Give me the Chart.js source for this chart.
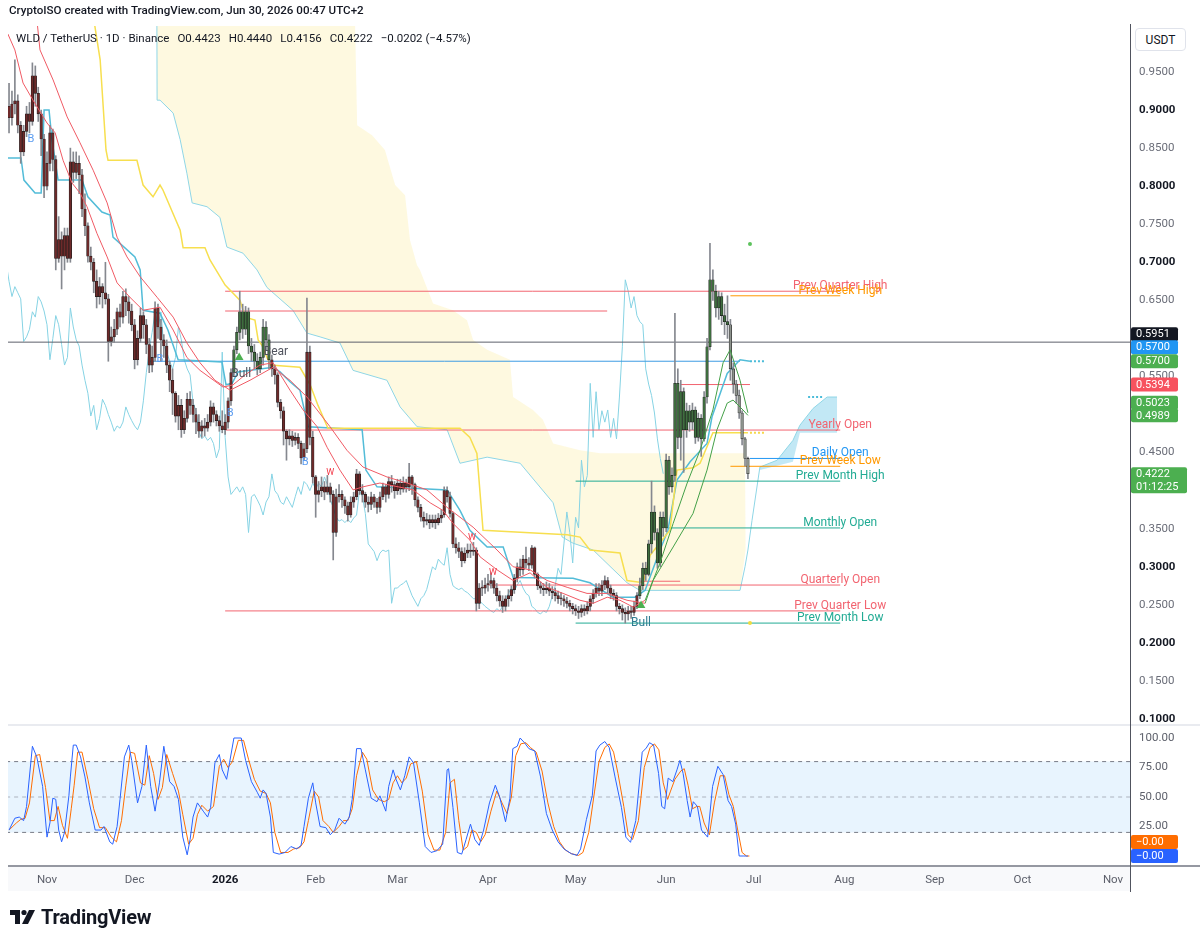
<!DOCTYPE html>
<html><head><meta charset="utf-8">
<script src="https://cdn.jsdelivr.net/npm/chart.js@4.4.1/dist/chart.umd.min.js"></script>
<style>
html,body{margin:0;padding:0;background:#fff;width:1200px;height:946px;overflow:hidden;font-family:Roboto,"Noto Sans",sans-serif;color:#131722}
canvas{position:absolute;left:0}
#main{top:0}
#osc{top:724px}
.abs{position:absolute;white-space:nowrap}
#hdr{left:9px;top:3px;font-size:11.6px;font-weight:500}
#ttl{left:16px;top:31px;font-size:11.5px}
#ttl span{margin-left:8px}
#usdt{left:1135px;top:28px;width:51px;height:23px;border:1px solid #e0e3eb;border-radius:4px;background:#fff;font-size:12px;text-align:center;line-height:23px;box-sizing:border-box}
#vline{left:1130px;top:24px;width:1px;height:868px;background:#50535e}
#sep{left:8px;top:724px;width:1192px;height:2px;background:#e9ebf0}
#xbar{left:8px;top:866px;width:1122px;height:25px;background:#f8f9fb}
#bline{left:8px;top:865px;width:1192px;height:2px;background:#9598a1}
#logo{left:10px;top:905px;display:flex;align-items:center}
#logo span{font-size:20px;font-weight:700;margin-left:5px;letter-spacing:-0.2px}
</style></head>
<body>
<div id="xbar" class="abs"></div>
<canvas id="main" width="1200" height="724"></canvas>
<canvas id="osc" width="1200" height="222"></canvas>
<div id="sep" class="abs"></div>
<div id="bline" class="abs"></div>
<div id="vline" class="abs"></div>
<div id="hdr" class="abs">CryptoISO created with TradingView.com, Jun 30, 2026 00:47 UTC+2</div>
<div id="ttl" class="abs">WLD / TetherUS · 1D · Binance<span>O0.4423</span><span>H0.4440</span><span>L0.4156</span><span>C0.4222</span><span>−0.0202 (−4.57%)</span></div>
<div id="usdt" class="abs">USDT</div>
<div id="logo" class="abs"><svg width="26" height="16" viewBox="0 0 26 16"><path d="M0 1h10v14H5V6H0z" fill="#131722"/><circle cx="14" cy="3.5" r="2.6" fill="#131722"/><path d="M19 1h6l-7 14h-6z" fill="#131722"/></svg><span>TradingView</span></div>
<script>
// ---------- DATA (day index 0 = 2025-10-19, daily candles) ----------
const firstOpen = 0.905;
const closes=[0.890,0.908,0.912,0.880,0.845,0.872,0.895,0.885,0.945,0.922,
0.895,0.862,0.800,0.830,0.870,0.835,0.705,0.730,0.708,0.735,
0.705,0.832,0.818,0.830,0.815,0.770,0.748,0.708,0.700,0.675,
0.655,0.668,0.660,0.652,0.596,0.602,0.612,0.635,0.628,0.655,
0.648,0.636,0.618,0.572,0.600,0.630,0.618,0.592,0.565,0.575,
0.640,0.615,0.598,0.590,0.565,0.545,0.528,0.498,0.512,0.480,
0.495,0.520,0.512,0.500,0.490,0.478,0.485,0.482,0.490,0.510,
0.500,0.492,0.485,0.480,0.490,0.518,0.555,0.585,0.608,0.635,
0.612,0.635,0.590,0.582,0.570,0.560,0.575,0.615,0.598,0.572,
0.560,0.552,0.516,0.505,0.478,0.468,0.472,0.466,0.470,0.462,
0.443,0.455,0.582,0.470,0.418,0.395,0.400,0.405,0.398,0.405,
0.395,0.345,0.392,0.395,0.388,0.380,0.368,0.385,0.392,0.422,
0.400,0.395,0.385,0.382,0.392,0.385,0.378,0.392,0.405,0.395,
0.412,0.408,0.400,0.410,0.402,0.410,0.405,0.418,0.408,0.388,
0.378,0.365,0.360,0.362,0.358,0.362,0.358,0.364,0.368,0.400,
0.392,0.370,0.330,0.325,0.320,0.308,0.318,0.322,0.320,0.322,
0.252,0.272,0.272,0.276,0.278,0.282,0.272,0.262,0.255,0.248,
0.258,0.262,0.270,0.285,0.300,0.296,0.310,0.305,0.302,0.325,
0.290,0.275,0.272,0.270,0.272,0.268,0.266,0.262,0.258,0.258,
0.255,0.252,0.248,0.245,0.242,0.240,0.245,0.242,0.248,0.258,
0.265,0.272,0.268,0.276,0.282,0.272,0.265,0.262,0.248,0.245,
0.240,0.238,0.242,0.240,0.248,0.262,0.275,0.298,0.290,0.330,
0.372,0.345,0.305,0.365,0.351,0.440,0.405,0.420,0.541,0.470,
0.530,0.480,0.505,0.490,0.506,0.470,0.495,0.468,0.523,0.589,
0.677,0.662,0.640,0.655,0.630,0.622,0.618,0.560,0.540,0.525,
0.502,0.468,0.4423,0.4222];
const highs=[0.935,0.925,0.966,0.920,0.885,0.880,0.905,0.910,0.962,0.958,
0.930,0.900,0.868,0.845,0.880,0.875,0.840,0.760,0.740,0.745,
0.745,0.850,0.845,0.845,0.840,0.822,0.790,0.752,0.720,0.705,
0.690,0.680,0.672,0.700,0.658,0.615,0.625,0.640,0.645,0.662,
0.665,0.655,0.645,0.625,0.610,0.640,0.635,0.625,0.600,0.590,
0.648,0.645,0.625,0.605,0.598,0.570,0.560,0.530,0.525,0.520,
0.505,0.528,0.530,0.520,0.508,0.500,0.492,0.495,0.500,0.518,
0.515,0.505,0.498,0.505,0.500,0.522,0.560,0.590,0.615,0.662,
0.645,0.642,0.640,0.600,0.592,0.580,0.582,0.625,0.622,0.605,
0.578,0.565,0.555,0.520,0.510,0.480,0.480,0.478,0.476,0.475,
0.465,0.462,0.653,0.590,0.478,0.420,0.412,0.418,0.412,0.420,
0.410,0.400,0.402,0.408,0.400,0.392,0.385,0.392,0.398,0.428,
0.425,0.408,0.398,0.392,0.398,0.395,0.390,0.398,0.410,0.408,
0.418,0.420,0.412,0.415,0.415,0.418,0.415,0.436,0.420,0.410,
0.392,0.382,0.372,0.370,0.368,0.368,0.368,0.370,0.375,0.405,
0.405,0.398,0.372,0.338,0.332,0.325,0.325,0.330,0.330,0.332,
0.325,0.278,0.282,0.285,0.290,0.292,0.285,0.278,0.268,0.262,
0.262,0.270,0.275,0.290,0.305,0.310,0.315,0.326,0.312,0.328,
0.326,0.292,0.280,0.278,0.280,0.278,0.274,0.272,0.268,0.266,
0.262,0.260,0.256,0.252,0.250,0.248,0.250,0.250,0.254,0.262,
0.270,0.278,0.278,0.282,0.288,0.286,0.276,0.270,0.266,0.252,
0.250,0.246,0.248,0.248,0.255,0.266,0.285,0.305,0.306,0.335,
0.4125,0.380,0.350,0.372,0.372,0.448,0.445,0.430,0.633,0.560,
0.545,0.535,0.515,0.512,0.515,0.510,0.502,0.500,0.530,0.600,
0.725,0.690,0.670,0.662,0.660,0.645,0.656,0.625,0.568,0.545,
0.532,0.505,0.470,0.444];
const lows=[0.870,0.880,0.895,0.870,0.830,0.840,0.865,0.870,0.880,0.905,
0.885,0.840,0.785,0.795,0.820,0.820,0.690,0.700,0.665,0.690,
0.700,0.700,0.805,0.810,0.790,0.760,0.735,0.700,0.690,0.660,
0.640,0.645,0.640,0.645,0.570,0.590,0.595,0.605,0.615,0.620,
0.630,0.620,0.610,0.560,0.565,0.595,0.600,0.580,0.555,0.556,
0.570,0.600,0.570,0.575,0.555,0.530,0.500,0.490,0.480,0.470,
0.475,0.490,0.500,0.490,0.475,0.470,0.470,0.472,0.478,0.485,
0.490,0.485,0.478,0.476,0.474,0.482,0.512,0.550,0.580,0.598,
0.600,0.605,0.580,0.570,0.560,0.552,0.555,0.565,0.585,0.560,
0.550,0.540,0.510,0.495,0.460,0.440,0.460,0.458,0.460,0.455,
0.435,0.440,0.450,0.460,0.410,0.365,0.385,0.392,0.388,0.395,
0.385,0.309,0.340,0.385,0.378,0.370,0.360,0.365,0.378,0.388,
0.395,0.385,0.378,0.372,0.375,0.378,0.370,0.372,0.388,0.385,
0.390,0.398,0.390,0.395,0.395,0.398,0.398,0.400,0.395,0.380,
0.372,0.360,0.352,0.355,0.350,0.352,0.350,0.355,0.358,0.365,
0.385,0.365,0.325,0.318,0.312,0.300,0.305,0.312,0.312,0.315,
0.242,0.245,0.262,0.265,0.268,0.272,0.265,0.255,0.248,0.240,
0.242,0.248,0.255,0.265,0.280,0.288,0.290,0.298,0.295,0.298,
0.285,0.270,0.265,0.262,0.265,0.262,0.258,0.255,0.252,0.250,
0.248,0.246,0.242,0.238,0.236,0.232,0.234,0.236,0.238,0.242,
0.252,0.260,0.262,0.262,0.270,0.266,0.258,0.256,0.242,0.238,
0.230,0.226,0.230,0.232,0.236,0.245,0.258,0.270,0.282,0.288,
0.318,0.335,0.298,0.300,0.340,0.346,0.395,0.398,0.412,0.455,
0.440,0.424,0.470,0.478,0.480,0.462,0.465,0.445,0.465,0.515,
0.585,0.650,0.628,0.625,0.618,0.605,0.600,0.545,0.528,0.515,
0.495,0.460,0.432,0.4156];
const greenRanges=[[77,89],[216,246]];
const grayRanges=[[247,253]];
const chikouShift=29;

// overlay lines [day, price]
const emaFastRed=[[-0.4,1.0],[2,0.979],[4.8,0.9355],[8.2,0.913],[13,0.883],[15.8,0.870],[18.5,0.834],[21.6,0.804],[24.3,0.791],[26.7,0.773],[30.1,0.738],[33.6,0.707],[37,0.673],[41.4,0.654],[45.9,0.637],[51.7,0.641],[56.2,0.611],[60.9,0.575],[65.4,0.558],[73.3,0.536],[76.7,0.539],[80.8,0.552],[85.9,0.565],[90.4,0.568],[96.2,0.532],[100.7,0.506],[105.5,0.484],[108.9,0.457],[113.3,0.427],[117.8,0.401],[121.2,0.405],[127,0.410],[138.3,0.401],[144.2,0.384],[148.6,0.374],[152,0.357],[157.8,0.335],[161.3,0.313],[167.1,0.296],[172.6,0.282],[178.4,0.292],[184.2,0.273],[189.7,0.265],[195.5,0.256],[200,0.252],[204.8,0.260],[209.2,0.256],[213.7,0.247],[217.8,0.256]];
const emaFastGreen=[[217.8,0.256],[222.9,0.305],[227.4,0.357],[232.2,0.410],[236.6,0.453],[241,0.506],[244.5,0.568],[246.9,0.585],[250.3,0.545],[253,0.5023]];
const emaSlowRed=[[9.5,1.02],[10.6,0.979],[15.1,0.9395],[19.9,0.891],[24.3,0.857],[28.8,0.821],[33.6,0.778],[37,0.733],[40.4,0.707],[44.9,0.681],[50.7,0.654],[56.2,0.628],[60.9,0.594],[65.4,0.568],[70.5,0.545],[75.7,0.532],[82.5,0.545],[90.4,0.562],[96.2,0.545],[102,0.523],[105.5,0.506],[109.9,0.484],[115.7,0.453],[121.2,0.431],[129.4,0.418],[136.3,0.410],[143.1,0.401],[150,0.378],[158.9,0.352],[167.1,0.322],[172.6,0.300],[178.4,0.296],[184.2,0.282],[191.1,0.273],[197.9,0.265],[204.8,0.265],[211.6,0.256],[217.8,0.252]];
const emaSlowGreen=[[217.8,0.252],[220.5,0.282],[227.4,0.326],[234.2,0.370],[239,0.427],[242.4,0.480],[245.9,0.515],[247.9,0.519],[251.3,0.506],[253,0.4989]];
const convLine=[[-0.4,0.837],[4.1,0.837],[5.1,0.808],[8.9,0.791],[11,0.791],[12,0.900],[13.7,0.900],[14.7,0.861],[16.8,0.808],[25,0.808],[27,0.786],[31.8,0.766],[34.6,0.762],[35.6,0.733],[43.1,0.707],[44.9,0.690],[45.9,0.637],[51.7,0.633],[54.4,0.611],[57.9,0.572],[72.9,0.569],[74.3,0.539],[76.4,0.541],[78.4,0.556],[90.4,0.562],[92.8,0.556],[96.2,0.543],[99.6,0.532],[102.4,0.484],[120.9,0.480],[122.2,0.427],[126,0.405],[138.3,0.403],[150,0.401],[154.4,0.374],[157.8,0.348],[163.7,0.326],[169.2,0.326],[172.6,0.286],[193.1,0.285],[198.9,0.279],[206.8,0.260],[214.3,0.260],[217.8,0.269],[222.9,0.322],[225.6,0.348],[228.7,0.414],[233.2,0.438],[239,0.462],[240.7,0.497],[245.9,0.554],[250.3,0.572],[253.7,0.570]];
const yellowLine=[[28,1.03],[29.4,1.010],[31.2,0.966],[33.2,0.8475],[33.9,0.834],[43.8,0.834],[45.9,0.8015],[49.3,0.786],[51.7,0.8015],[52.7,0.795],[58.6,0.742],[59.6,0.719],[67.1,0.719],[68.8,0.703],[74,0.670],[79.1,0.650],[80.8,0.628],[84.2,0.624],[85.3,0.598],[86.6,0.591],[89.4,0.565],[99.6,0.562],[103.1,0.539],[105.8,0.512],[109.2,0.482],[154.4,0.482],[157.8,0.470],[160.2,0.449],[162.3,0.348],[191.1,0.342],[195.5,0.339],[198.9,0.322],[209.2,0.318],[211.6,0.282],[217.1,0.279],[219.5,0.315],[226.3,0.348],[228.7,0.427],[234.2,0.430],[236.6,0.436],[241,0.476],[253,0.476]];
const cloudPoly=[[50.7,1.05],[118.5,1.05],[118.5,1.01],[119.2,0.880],[124.3,0.867],[128.7,0.8475],[132.2,0.8015],[135.6,0.788],[137.3,0.729],[139.7,0.696],[140.7,0.690],[145.2,0.646],[152,0.637],[156.8,0.624],[158.9,0.598],[163.7,0.585],[171.5,0.572],[172.6,0.523],[179.4,0.506],[182.8,0.493],[186.3,0.462],[195.5,0.453],[202.4,0.449],[252,0.449],[252.2,0.322],[250.3,0.269],[216,0.269],[211.6,0.279],[200,0.322],[193.1,0.331],[189.4,0.339],[186.3,0.384],[175,0.436],[163.7,0.444],[154.4,0.436],[150,0.480],[139.7,0.484],[133.9,0.510],[129.4,0.545],[117.8,0.558],[113.3,0.594],[106.5,0.602],[102,0.607],[97.2,0.637],[88.3,0.667],[84.9,0.690],[80.1,0.712],[74.6,0.720],[72.2,0.759],[67.8,0.773],[62.7,0.778],[60.9,0.817],[58.6,0.861],[56.2,0.896],[51.7,0.913],[50.7,0.913]];
const cloudLow=[[50.6,1.05],[50.7,0.913],[51.7,0.913],[56.2,0.896],[58.6,0.861],[60.9,0.817],[62.7,0.778],[67.8,0.773],[72.2,0.759],[74.6,0.720],[80.1,0.712],[84.9,0.690],[88.3,0.667],[97.2,0.637],[102,0.607],[106.5,0.602],[113.3,0.594],[117.8,0.558],[129.4,0.545],[133.9,0.510],[139.7,0.484],[150,0.480],[154.4,0.436],[163.7,0.444],[175,0.436],[186.3,0.384],[189.4,0.339],[193.1,0.331],[200,0.322],[211.6,0.279],[216,0.269],[250.3,0.269],[252,0.300],[253,0.322],[254.4,0.361],[257.1,0.431],[263,0.440],[268.4,0.466],[270.8,0.486],[275.3,0.508],[280.1,0.523],[283.5,0.523]];
const futureCloud=[[257.1,0.431],[263,0.440],[268.4,0.466],[270.8,0.486],[275.3,0.508],[280.1,0.523],[283.5,0.523],[283.5,0.476],[270.8,0.476],[268.4,0.438],[257.1,0.427]];

// horizontal levels
const levelNames=['Prev Quarter High','Prev Week High','Yearly Open','Daily Open','Prev Week Low','Prev Month High','Monthly Open','Quarterly Open','Prev Quarter Low','Prev Month Low'];
const levelValues=[0.662,0.656,0.4796,0.4423,0.432,0.4125,0.351,0.276,0.242,0.226];
const levelStart=[74,247,74,253.7,247,194,225,164,74,194];
const levelEnd=284.6;
const levelColors=['#f26470','#ff9800','#f26470','#2196f3','#ff9800','#22ab94','#22ab94','#f26470','#f26470','#22ab94'];
const extraLines=[ // value, start, end, color
 [0.5951,-1,400,'#5d606b'],[0.570,48,250.3,'#3d9be3'],[0.636,74,204.8,'#f26470'],[0.5394,229.8,253.7,'#f26470'],[0.281,216,229.8,'#f26470']];
const dottedLines=[[0.570,253.7,258.9,'#4bbcd9'],[0.523,273.6,278.4,'#4bbcd9'],[0.476,253.7,258.9,'#f5d84a']];

// annotations
const triangles=[[78.8,0.575],[216.4,0.249]];
const annotTexts=[['Bull',216.4,0.226,'#2f7d92',12],['Bear',91.4,0.582,'#50535e',12],['Bull',79.5,0.553,'#50535e',12],
 ['B',7.5,0.861,'#5b9cf0',11],['B',51.7,0.572,'#5b9cf0',11],['B',75.7,0.502,'#5b9cf0',11],['B',101.4,0.437,'#5b9cf0',11],
 ['W',110,0.424,'#f23645',9],['W',158.5,0.338,'#f23645',9],['W',165.7,0.292,'#f23645',9]];
const dots=[[253.7,0.724,'#5cc25c'],[253.7,0.226,'#f0dc40']];

// right price axis
const priceTicks=[0.95,0.90,0.85,0.80,0.75,0.70,0.65,0.55,0.45,0.35,0.30,0.25,0.20,0.15,0.10];
const boldTicks=[0.90,0.80,0.70,0.30,0.20,0.10];
const priceBoxes=[[0.5951,'0.5951','#131722',-8],[0.5700,'0.5700','#2196f3',-14],[0.5700,'0.5700','#4caf50',0],[0.5394,'0.5394','#f7525f',0],[0.5023,'0.5023','#4caf50',-10],[0.4989,'0.4989','#4caf50',0]];
const lastPrice=0.4222, countdown='01:12:25';

// stochastic RSI [day, value]
const stochK=[[0,22],[2,32],[3.5,33],[5,30],[6,42],[8,93],[9.5,84],[11.5,59],[13,16],[14,28],[15,49],[16,48],[17,22],[18,12],[19,20],[20.5,51],[21,67],[22,94],[23,94],[24.5,84],[26,67],[27.5,45],[29.5,22],[31.5,22],[32.5,25],[34.5,12],[35.5,10],[37,25],[38,48],[39.5,84],[41,94],[42,81],[44,45],[45.5,59],[47,94],[48.5,59],[50,38],[51.5,62],[53,93],[55,63],[56.5,59],[58,48],[59.5,16],[61,1],[62,14],[63,33],[64.5,45],[66.5,38],[68,33],[69,41],[70.5,79],[72,86],[73,73],[74.5,65],[75.5,79],[77,100],[79.5,100],[81,81],[83,63],[85,54],[86,49],[87,56],[88,53],[89.5,33],[90.5,3],[92.5,1.6],[94.5,3],[96.5,8],[98.5,6],[100,9],[101,25],[102.5,49],[104,62],[105,45],[106.5,25],[108.5,24],[110,18],[111.5,22],[113,32],[115,27],[116.5,33],[117.5,48],[119,91],[120.5,91],[122,73],[124,49],[126,46],[127,51],[129,38],[130,59],[131.5,73],[132.5,65],[134,56],[135.5,68],[137,84],[138.5,79],[140.5,45],[142.5,8],[144.5,3],[146.5,4.5],[148.5,10],[150,73],[150.5,74],[152,41],[153.5,3],[155,1.6],[156.5,14],[158,27],[159.5,14],[161,9],[162.5,22],[164.5,45],[166.5,60],[168,50],[170,29],[171.5,49],[172.5,91],[174,93],[175,100],[176.5,96],[178,91],[180,89],[182,67],[184,36],[186,22],[188,12],[190,6],[192.5,2],[194.5,0.5],[195.7,6],[197.7,31],[199.7,51],[201,89],[202.3,94],[204,97],[205.5,92],[207.5,67],[209.7,41],[211.2,16],[212.8,11.6],[214.6,30],[216.8,88],[218.2,91.5],[219.3,96],[220.7,94],[222.4,70],[223.5,42],[224.5,40],[225.7,66],[227.3,63],[228.7,73],[229.7,81],[230.8,70],[232.2,47],[233.2,33],[234.3,46],[235.7,42],[237.1,22],[239.2,16],[240.9,59],[242.7,76],[244.5,69],[246.2,47],[247.4,42],[248.8,27],[250,0],[251.6,0],[253,0]];
const stochD=[[0,22],[2.5,28],[4,31],[5.5,32],[7,45],[9,85],[10.5,86],[12.5,58],[14,30],[15.5,30],[16.8,42],[18.3,26],[20,15],[21.3,40],[22.3,60],[23.5,88],[25,88],[27,65],[29,40],[31,24],[33,24],[35,16],[36.8,12],[38.5,30],[40,60],[41.5,88],[43,87],[45,62],[46.5,60],[48,85],[49.5,70],[51,48],[52.5,58],[54,86],[56,70],[58,55],[59.5,35],[61.5,10],[63,15],[64.5,35],[66,43],[68,38],[70,42],[72,76],[73.5,82],[75,75],[76.5,80],[78.5,98],[80.3,98],[82,82],[84,65],[86,55],[88,53],[89.5,45],[91,20],[93,3],[95.5,3],[97.5,6],[99.5,7],[101,12],[102.5,30],[104.5,55],[106,50],[107.5,30],[109.5,25],[111,20],[113,25],[114.5,30],[116,30],[117.5,40],[119,68],[121,88],[122.5,82],[124.5,56],[126.5,48],[128.5,46],[130,48],[131.5,62],[133,68],[134.5,62],[136,66],[137.5,78],[139.5,80],[141.5,55],[143.5,18],[145.5,5],[147.5,5],[149.5,20],[151,62],[152.5,65],[154,30],[155.5,5],[157,8],[158.5,22],[160,20],[161.5,12],[163,18],[165,38],[167,55],[168.8,45],[170.5,36],[172,50],[173.5,85],[175.2,95],[177,96],[178.5,92],[180.5,88],[182.5,72],[184.5,45],[186.5,25],[188.5,12],[190.5,5],[192.5,2],[195,0.5],[196.5,3],[198.5,20],[200.5,55],[202,80],[204,92],[205.5,95],[207,88],[208.5,70],[210.5,42],[212,18],[213.5,14],[215.5,30],[217.5,75],[219.5,92],[221,95],[222.5,90],[224,62],[225.5,48],[226.5,55],[228,65],[230,72],[231.2,74],[232.5,60],[234,40],[235.5,42],[236.5,42],[238,28],[239.8,18],[241.5,45],[243.5,68],[245,68],[246.5,52],[248,42],[249.5,22],[251,3],[252.5,0],[253.5,0]];
const stochTicks=[100,75,50,25];
const bandLevels=[80,50,20];

// time axis
const monthDays=[13,43,74,105,133,164,194,225,255,286,317,347,378];
const monthLabels=['Nov','Dec','2026','Feb','Mar','Apr','May','Jun','Jul','Aug','Sep','Oct','Nov'];

// ---------- CHART ----------
const FONT='Roboto, "Noto Sans", sans-serif';
Chart.defaults.font.family=FONT;
const mk=a=>a.map(p=>({x:p[0],y:p[1]}));
const inR=(i,rs)=>rs.some(r=>i>=r[0]&&i<=r[1]);
const opens=closes.map((c,i)=>i?closes[i-1]:firstOpen);
const bodyColors=closes.map((c,i)=>inR(i,greenRanges)?'#3f6e3f':inR(i,grayRanges)?'#8d938d':'#6e2a2a');
const L=(data,color,w,order,extra)=>Object.assign({type:'line',data,borderColor:color,borderWidth:w,pointRadius:0,fill:false,tension:0,order},extra||{});
const isBold=c=>!!(c&&c.tick)&&boldTicks.some(b=>Math.abs(b-c.tick.value)<1e-6);
const isYear=c=>!!(c&&c.tick)&&c.tick.value===74;
const noPadV=s=>{s.width=70;s.paddingTop=0;s.paddingBottom=0;};
const noPadH=s=>{s.height=81;s.paddingLeft=0;s.paddingRight=0;};

// calibrate scale ranges so that the reference axis anchors land where the reference has them
function calibrate(chart, xAnch, yAnch){
  const a=chart.chartArea, xo=chart.options.scales.x, yo=chart.options.scales.y;
  const kx=(xAnch[3]-xAnch[1])/(xAnch[2]-xAnch[0]);
  xo.min=xAnch[0]-(xAnch[1]-a.left)/kx; xo.max=xo.min+(a.right-a.left)/kx;
  const ky=(yAnch[3]-yAnch[1])/(yAnch[0]-yAnch[2]);
  yo.max=yAnch[0]+(yAnch[1]-a.top)/ky; yo.min=yo.max-(a.bottom-a.top)/ky;
  chart.update('none');
}

const mainDs=[];
mainDs.push(L(mk(cloudPoly),'rgba(0,0,0,0)',0,100,{fill:'shape',backgroundColor:'rgba(250,225,100,0.2)'}));
mainDs.push(L(mk(futureCloud),'rgba(0,0,0,0)',0,99,{fill:'shape',backgroundColor:'rgba(79,190,225,0.35)'}));
mainDs.push(L(closes.map((c,i)=>({x:i-chikouShift,y:c})),'#86d3e4',1,90));
mainDs.push(L(mk(cloudLow),'#8fd6e6',1,90));
levelNames.forEach((n,k)=>mainDs.push(L([{x:levelStart[k],y:levelValues[k]},{x:levelEnd,y:levelValues[k]}],levelColors[k],1,80)));
extraLines.forEach(e=>mainDs.push(L([{x:e[1],y:e[0]},{x:e[2],y:e[0]}],e[3],1,80)));
dottedLines.forEach(e=>mainDs.push(L([{x:e[1],y:e[0]},{x:e[2],y:e[0]}],e[3],2,80,{borderDash:[2,2]})));
mainDs.push(L(mk(yellowLine),'#f7df4f',1.5,70));
mainDs.push(L(mk(convLine),'#52bcd8',1.5,70));
mainDs.push({type:'bar',data:closes.map((c,i)=>({x:i,y:[lows[i],highs[i]]})),backgroundColor:'#85888f',barThickness:1,grouped:false,order:40});
mainDs.push({type:'bar',data:closes.map((c,i)=>({x:i,y:[opens[i],c]})),backgroundColor:bodyColors,borderColor:'#1d1d1d',borderWidth:0.6,borderSkipped:false,barThickness:2.6,grouped:false,minBarLength:1,order:30});
mainDs.push(L(mk(emaFastRed),'#f05a64',1,20));
mainDs.push(L(mk(emaSlowRed),'#f05a64',1,20));
mainDs.push(L(mk(emaFastGreen),'#43a047',1,20));
mainDs.push(L(mk(emaSlowGreen),'#43a047',1,20));
mainDs.push({type:'scatter',data:mk(triangles),pointStyle:'triangle',pointRadius:5,backgroundColor:'#4caf50',borderWidth:0,order:5});
mainDs.push({type:'scatter',data:dots.map(d=>({x:d[0],y:d[1]})),pointRadius:2,backgroundColor:dots.map(d=>d[2]),borderWidth:0,order:5});

function roundRect(ctx,x,y,w,h,r){ctx.beginPath();ctx.moveTo(x+r,y);ctx.lineTo(x+w-r,y);ctx.quadraticCurveTo(x+w,y,x+w,y+r);ctx.lineTo(x+w,y+h-r);ctx.quadraticCurveTo(x+w,y+h,x+w-r,y+h);ctx.lineTo(x+r,y+h);ctx.quadraticCurveTo(x,y+h,x,y+h-r);ctx.lineTo(x,y+r);ctx.quadraticCurveTo(x,y,x+r,y);ctx.closePath();}

const mainPlugin={id:'mainOverlay',
 afterDatasetsDraw(chart){
  const {ctx,chartArea:a,scales:{x,y}}=chart;
  ctx.save();ctx.beginPath();ctx.rect(a.left,a.top,a.right-a.left,a.bottom-a.top);ctx.clip();
  ctx.textAlign='center';ctx.textBaseline='bottom';ctx.font='12px '+FONT;
  levelNames.forEach((n,k)=>{ctx.fillStyle=levelColors[k];ctx.fillText(n,x.getPixelForValue(levelEnd),y.getPixelForValue(levelValues[k])+1);});
  ctx.textBaseline='middle';
  annotTexts.forEach(t=>{ctx.font=t[4]+'px '+FONT;ctx.fillStyle=t[3];ctx.fillText(t[0],x.getPixelForValue(t[1]),y.getPixelForValue(t[2]));});
  ctx.restore();
 },
 afterDraw(chart){
  const {ctx,scales:{y}}=chart;
  ctx.save();ctx.font='11px '+FONT;ctx.textBaseline='middle';ctx.textAlign='left';
  priceBoxes.forEach(b=>{const py=y.getPixelForValue(b[0])+b[3];ctx.fillStyle=b[2];roundRect(ctx,1131,py-7,47,14,2);ctx.fill();ctx.fillStyle='#fff';ctx.fillText(b[1],1136,py+0.5);});
  const py=y.getPixelForValue(lastPrice);
  ctx.fillStyle='#4caf50';roundRect(ctx,1131,py-6.5,56,26,2);ctx.fill();
  ctx.fillStyle='#fff';ctx.fillText(lastPrice.toFixed(4),1136,py+0.5);ctx.fillText(countdown,1136,py+13.5);
  ctx.restore();
 }};

const mainChart=new Chart(document.getElementById('main'),{type:'line',data:{datasets:mainDs},
 options:{responsive:false,animation:false,events:[],
  layout:{padding:{left:8,top:26,right:0,bottom:2}},
  plugins:{legend:{display:false},tooltip:{enabled:false}},
  scales:{
   x:{type:'linear',min:-0.34,max:383.8,display:false,offset:false},
   y:{type:'linear',position:'right',min:0.0959,max:1.0104,grid:{display:false,drawTicks:false},border:{display:false},
      afterFit:noPadV,
      afterBuildTicks:s=>{s.ticks=priceTicks.map(v=>({value:v}));},
      ticks:{padding:9,callback:v=>Number(v).toFixed(4),
        color:c=>isBold(c)?'#131722':'#6a6d78',
        font:c=>({family:FONT,size:11.5,weight:isBold(c)?'bold':'normal'})}}
  }},plugins:[mainPlugin]});
// anchors: [value1, pixel1, value2, pixel2]
calibrate(mainChart,[13,47,378,1113],[0.95,72,0.10,719]);

// oscillator
const oscDs=[];
oscDs.push(L([{x:-1,y:bandLevels[0]},{x:400,y:bandLevels[0]},{x:400,y:bandLevels[2]},{x:-1,y:bandLevels[2]}],'rgba(0,0,0,0)',0,100,{fill:'shape',backgroundColor:'rgba(33,150,243,0.1)'}));
bandLevels.forEach((v,k)=>oscDs.push(L([{x:-1,y:v},{x:400,y:v}],k===1?'rgba(120,123,134,0.55)':'#787b86',1,90,{borderDash:[4,4]})));
oscDs.push(L(mk(stochD),'#ff6d00',1,20));
oscDs.push(L(mk(stochK),'#2962ff',1,10));
const oscPlugin={id:'oscOverlay',afterDraw(chart){
  const {ctx}=chart;ctx.save();ctx.font='11px '+FONT;ctx.textBaseline='middle';ctx.textAlign='left';
  [['#ff6d00',0,-14],['#2962ff',0,0]].forEach(b=>{const py=chart.scales.y.getPixelForValue(b[1])+b[2];ctx.fillStyle=b[0];roundRect(ctx,1131,py-7,47,14,2);ctx.fill();ctx.fillStyle='#fff';ctx.fillText('−0.00',1136,py+0.5);});
  ctx.restore();}};
const oscChart=new Chart(document.getElementById('osc'),{type:'line',data:{datasets:oscDs},
 options:{responsive:false,animation:false,events:[],
  layout:{padding:{left:8,top:3,right:0,bottom:0}},
  plugins:{legend:{display:false},tooltip:{enabled:false}},
  scales:{
   x:{type:'linear',min:-0.34,max:383.8,offset:false,grid:{display:false,drawTicks:false},border:{display:false},
      afterFit:noPadH,
      afterBuildTicks:s=>{s.ticks=monthDays.map(v=>({value:v}));},
      ticks:{autoSkip:false,maxRotation:0,minRotation:0,padding:8,
        callback:v=>monthLabels[monthDays.indexOf(v)],
        color:c=>isYear(c)?'#131722':'#5d606b',
        font:c=>({family:FONT,size:11.5,weight:isYear(c)?'bold':'normal'})}},
   y:{type:'linear',position:'right',min:-7.63,max:109.32,grid:{display:false,drawTicks:false},border:{display:false},
      afterFit:noPadV,
      afterBuildTicks:s=>{s.ticks=stochTicks.map(v=>({value:v}));},
      ticks:{padding:9,callback:v=>Number(v).toFixed(2),color:'#5d606b',font:{family:FONT,size:11.5}}}
  }},plugins:[oscPlugin]});
calibrate(oscChart,[13,47,378,1113],[100,14,0,132]);
</script>
</body></html>
